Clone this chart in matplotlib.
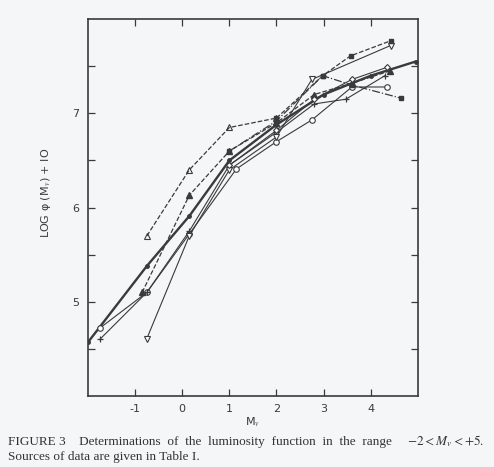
import matplotlib
matplotlib.use("Agg")
import matplotlib.pyplot as plt

plt.rcParams["mathtext.fontset"] = "stix"

# data (Mv, log phi + 10)
mv_a = [-0.75, 0.15, 1.0, 2.0]
lf_a = [5.70, 6.40, 6.85, 6.95]

mv_b = [-0.85, 0.15, 1.0, 2.0, 2.8, 3.6, 4.4]
lf_b = [5.10, 6.13, 6.60, 6.90, 7.20, 7.32, 7.45]

mv_c = [-2.0, -0.75, 0.15, 1.0, 2.0, 3.0, 4.0, 4.95]
lf_c = [4.57, 5.38, 5.91, 6.50, 6.88, 7.20, 7.40, 7.55]

mv_d = [-1.75, -0.75, 0.15, 1.15, 2.0, 2.75, 3.6, 4.35]
lf_d = [4.72, 5.10, 5.72, 6.41, 6.70, 6.93, 7.28, 7.28]

mv_e = [-1.75, -0.75, 0.15, 1.0, 2.0, 2.8, 3.47, 4.3]
lf_e = [4.60, 5.10, 5.75, 6.45, 6.80, 7.10, 7.15, 7.40]

mv_f = [-0.75, 0.15, 1.0, 2.0, 2.75, 4.42]
lf_f = [4.61, 5.70, 6.40, 6.75, 7.36, 7.72]

mv_g = [2.0, 2.98, 3.57, 4.42]
lf_g = [6.95, 7.40, 7.61, 7.77]

mv_h = [1.0, 2.0, 2.98, 3.6, 4.65]
lf_h = [6.60, 6.92, 7.40, 7.30, 7.16]

mv_i = [1.0, 2.0, 2.8, 3.6, 4.35]
lf_i = [6.45, 6.82, 7.15, 7.36, 7.49]

xticks = [-1, 0, 1, 2, 3, 4]
yticks = [4.5, 5, 5.5, 6, 6.5, 7, 7.5]
ylabels = ["", "5", "", "6", "", "7", ""]

ink = "#3a3a3a"
bg = "#f4f6f8"

fig = plt.figure(figsize=(4.94, 4.67), dpi=100, facecolor=bg)
ax = fig.add_axes([0.178, 0.152, 0.668, 0.807], facecolor=bg)

ax.plot(mv_a, lf_a, ls="--", color=ink, lw=0.9, marker="^", mfc="none", ms=4, mew=0.8)
ax.plot(mv_b, lf_b, ls="--", color=ink, lw=0.9, marker="^", mfc=ink, ms=4)
ax.plot(mv_c, lf_c, ls="-", color=ink, lw=1.7, marker="o", mfc=ink, ms=2.5)
ax.plot(mv_d, lf_d, ls="-", color=ink, lw=0.8, marker="o", mfc="white", ms=4, mew=0.8)
ax.plot(mv_e, lf_e, ls="-", color=ink, lw=0.8, marker="+", ms=5, mew=0.9)
ax.plot(mv_f, lf_f, ls="-", color=ink, lw=0.8, marker="v", mfc="white", ms=4, mew=0.8)
ax.plot(mv_g, lf_g, ls="--", color=ink, lw=0.9, marker="s", mfc=ink, ms=3.5)
ax.plot(mv_h, lf_h, ls="-.", color=ink, lw=0.9, marker="s", mfc=ink, ms=3.5)
ax.plot(mv_i, lf_i, ls="-", color=ink, lw=0.8, marker="D", mfc="white", ms=3, mew=0.8)

ax.set_xlim(-2, 5)
ax.set_ylim(4, 8)
ax.set_xticks(xticks)
ax.set_xticklabels(["-1", "0", "1", "2", "3", "4"])
ax.set_yticks(yticks)
ax.set_yticklabels(ylabels)
ax.tick_params(direction="in", top=True, right=True, length=5, width=0.9,
               colors=ink, labelsize=8, pad=6)
for s in ax.spines.values():
    s.set_linewidth(1.2)
    s.set_color(ink)

ax.set_xlabel("M$_v$", fontsize=8, color=ink, labelpad=1)
ax.set_ylabel("LOG \u03c6 (M$_v$) + IO", fontsize=8, color=ink)
ax.yaxis.set_label_coords(-0.106, 0.54)

# caption, first line is justified to the full width
fig.text(0.016, 0.047, "FIGURE 3    Determinations  of  the  luminosity  function  in  the  range",
         family="Liberation Serif", fontsize=9.5, color="#333")
fig.text(0.98, 0.047, r"$-2 < M_v < +5.$", ha="right",
         family="Liberation Serif", fontsize=9.5, color="#333")
fig.text(0.016, 0.016, "Sources of data are given in Table I.",
         family="Liberation Serif", fontsize=9.5, color="#333")

fig.savefig("out.png", dpi=100, facecolor=bg)
